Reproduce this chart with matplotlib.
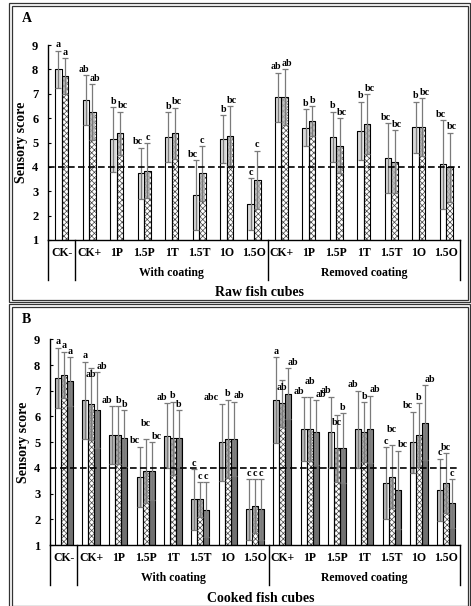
"""
Sensory scores of raw (A) and cooked (B) fish cubes.
Bars: mean, error bars: SD, letters: significance groups.
"""

import numpy as np
import matplotlib
matplotlib.use("Agg")
import matplotlib.pyplot as plt
from matplotlib.patches import Rectangle
from matplotlib.lines import Line2D
import matplotlib.transforms as mtransforms

plt.rcParams["font.family"] = ["Liberation Serif", "DejaVu Serif"]
plt.rcParams["font.weight"] = "bold"
plt.rcParams["hatch.linewidth"] = 0.5

# ============================================================
# Data
# ============================================================
categories = ["CK-", "CK+", "1P", "1.5P", "1T", "1.5T", "1O", "1.5O",
              "CK+", "1P", "1.5P", "1T", "1.5T", "1O", "1.5O"]

# Panel A - raw fish cubes (2 series)
raw_mean_1 = [8.0, 6.74, 5.13, 3.73, 5.23, 2.84, 5.13, 2.46,
              6.85, 5.6, 5.23, 5.48, 4.35, 5.62, 4.1]
raw_sd_1 = [0.76, 1.01, 1.33, 1.05, 1.02, 1.44, 0.98, 1.07,
            1.01, 0.76, 1.03, 1.19, 1.43, 1.05, 1.82]
raw_mean_2 = [7.72, 6.25, 5.37, 3.84, 5.37, 3.73, 5.26, 3.46,
              6.85, 5.88, 4.86, 5.75, 4.21, 5.62, 3.98]
raw_sd_2 = [0.73, 1.14, 0.89, 1.12, 1.05, 1.13, 1.23, 1.2,
            1.15, 0.61, 1.13, 1.23, 1.3, 1.19, 1.42]
raw_letters_1 = ["a", "ab", "b", "bc", "b", "bc", "b", "c",
                 "ab", "b", "b", "b", "bc", "b", "bc"]
raw_letters_2 = ["a", "ab", "bc", "c", "bc", "c", "bc", "c",
                 "ab", "b", "bc", "bc", "bc", "bc", "bc"]

# Panel B - cooked fish cubes (3 series)
ck_mean_1 = [7.5, 6.62, 5.27, 3.65, 5.25, 2.77, 5.0, 2.39,
             6.64, 5.5, 5.38, 5.5, 3.4, 5.0, 3.14]
ck_sd_1 = [1.18, 1.51, 1.13, 1.17, 1.27, 1.18, 1.5, 1.18,
           1.66, 1.25, 1.39, 1.5, 1.4, 1.19, 1.21]
ck_mean_2 = [7.62, 6.5, 5.27, 3.87, 5.15, 2.77, 5.13, 2.52,
             6.51, 5.5, 4.76, 5.38, 3.66, 5.28, 3.4]
ck_sd_2 = [0.9, 1.4, 1.13, 1.25, 1.42, 0.68, 1.52, 1.05,
           0.91, 1.25, 1.3, 1.17, 1.23, 1.23, 1.17]
ck_mean_3 = [7.36, 6.25, 5.15, 3.87, 5.15, 2.38, 5.13, 2.39,
             6.88, 5.38, 4.76, 5.5, 3.14, 5.76, 2.62]
ck_sd_3 = [0.94, 1.48, 1.1, 1.13, 1.1, 1.07, 1.45, 1.18,
           0.99, 1.26, 1.36, 1.31, 1.53, 1.46, 0.94]
ck_letters_1 = ["a", "a", "ab", "bc", "ab", "c", "abc", "c",
                "a", "ab", "ab", "ab", "c", "bc", "c"]
ck_letters_2 = ["a", "ab", "b", "bc", "b", "c", "b", "c",
                "ab", "ab", "bc", "b", "bc", "b", "bc"]
ck_letters_3 = ["a", "ab", "b", "bc", "b", "c", "ab", "c",
                "ab", "ab", "b", "ab", "bc", "ab", "c"]

THRESHOLD = 4
W, H = 471, 606


def draw_panel(ax, series, bar_w, sub_title):
    """series: list of (means, sds, letters, face, hatch, band)."""
    x = np.arange(len(categories)) + 0.5
    n = len(series)
    tops = np.array([np.add(s[0], s[1]) for s in series])   # cap heights
    for k, (means, sds, letters, face, hatch, band) in enumerate(series):
        rel = k - (n - 1) / 2
        xs = x + rel * bar_w
        means = np.asarray(means)
        sds = np.asarray(sds)
        ax.bar(xs, means - 1, bottom=1, width=bar_w, color=face,
               edgecolor="#444444", linewidth=0.6, hatch=hatch, zorder=2)
        # lower half of SD visible inside the bar
        ax.bar(xs, sds, bottom=means - sds, width=bar_w * 0.75,
               color=band, edgecolor="none", alpha=0.8, zorder=2.5)
        ax.bar(xs, means - 1, bottom=1, width=bar_w, color="none",
               edgecolor="black", linewidth=0.8, zorder=3)
        ax.errorbar(xs, means, yerr=sds, fmt="none", ecolor="#7a7a7a",
                    elinewidth=0.9, capsize=2, capthick=0.9, zorder=4)
        for j, (xi, lab) in enumerate(zip(xs, letters)):
            # spread wide labels sideways so neighbours don't collide
            dx = rel * (len(lab) - 1) * 3.6
            dy, va = 1, "bottom"
            if n == 3 and k == 1 and len(lab) > 1:
                d = tops[[0, 2], j] - tops[1, j]
                if np.any((d > 0) & (d < 0.9)):
                    dy, va = -2, "top"        # tuck under its own cap
                elif np.abs(d).min() < 0.2:
                    dy = 8                   # lift above the neighbours
            ax.annotate(lab, (xi, tops[k, j]), xytext=(dx, dy),
                        textcoords="offset points", ha="center",
                        va=va, fontsize=7.2, fontweight="bold", zorder=6)

    ax.axhline(THRESHOLD, color="black", linestyle="--", linewidth=1.2,
               dashes=(4, 2), zorder=5)
    ax.set_xlim(0, len(categories))
    ax.set_ylim(1, 9)
    ax.set_yticks(range(1, 10))
    ax.tick_params(axis="y", direction="in", length=2, labelsize=9,
                   pad=7)
    ax.set_xticks([])
    for side in ["top", "right"]:
        ax.spines[side].set_visible(False)
    ax.spines["left"].set_linewidth(1.0)
    ax.spines["bottom"].set_linewidth(1.0)
    ax.set_ylabel("Sensory score", fontsize=10, fontweight="bold",
                  labelpad=3)

    # category labels and group separators below the axis
    trans = mtransforms.blended_transform_factory(ax.transData, ax.transAxes)
    h_px = ax.get_position().height * H
    for xi, c in zip(x, categories):
        ax.text(xi, -13 / h_px, c, transform=trans, ha="center",
                va="center", fontsize=8.5, fontweight="bold")
    for sep in [0, 1, 8, 15]:
        ax.add_line(Line2D([sep, sep], [0, -40 / h_px], transform=trans,
                           color="black", linewidth=1.0, clip_on=False))
    ax.text(4.5, -33 / h_px, "With coating", transform=trans,
            ha="center", va="center", fontsize=8.5, fontweight="bold")
    ax.text(11.5, -33 / h_px, "Removed coating", transform=trans,
            ha="center", va="center", fontsize=8.5, fontweight="bold")
    ax.text(7.7, -53 / h_px, sub_title, transform=trans,
            ha="center", va="center", fontsize=10, fontweight="bold")


fig = plt.figure(figsize=(W / 100, H / 100), dpi=100)

# panel frames (double lines)
for top, bot in [(3, 302), (304, 608)]:
    for off in (0, 2.5):
        fig.add_artist(Rectangle(((9 + off) / W, 1 - (bot - off) / H),
                                 (470 - 9 - 2 * off) / W,
                                 (bot - top - 2 * off) / H,
                                 transform=fig.transFigure, fill=False,
                                 edgecolor="#333333", linewidth=0.9))

fig.text(22 / W, 1 - 19 / H, "A", fontsize=10, fontweight="bold",
         va="center")
fig.text(22 / W, 1 - 320 / H, "B", fontsize=10, fontweight="bold",
         va="center")

axA = fig.add_axes([48 / W, 1 - 240 / H, 412 / W, 195 / H])
axB = fig.add_axes([50 / W, 1 - 545 / H, 410 / W, 205.7 / H])

draw_panel(axA, [
    (raw_mean_1, raw_sd_1, raw_letters_1, "white", None, "#d0d0d0"),
    (raw_mean_2, raw_sd_2, raw_letters_2, "white", "xxxxxx", "#b0b0b0"),
], 0.237, "Raw fish cubes")

draw_panel(axB, [
    (ck_mean_1, ck_sd_1, ck_letters_1, "white", None, "#a8a8a8"),
    (ck_mean_2, ck_sd_2, ck_letters_2, "white", "xxxxxx", "#9a9a9a"),
    (ck_mean_3, ck_sd_3, ck_letters_3, "#707070", None, "#8a8a8a"),
], 0.22, "Cooked fish cubes")

fig.savefig("out.png", dpi=100)
